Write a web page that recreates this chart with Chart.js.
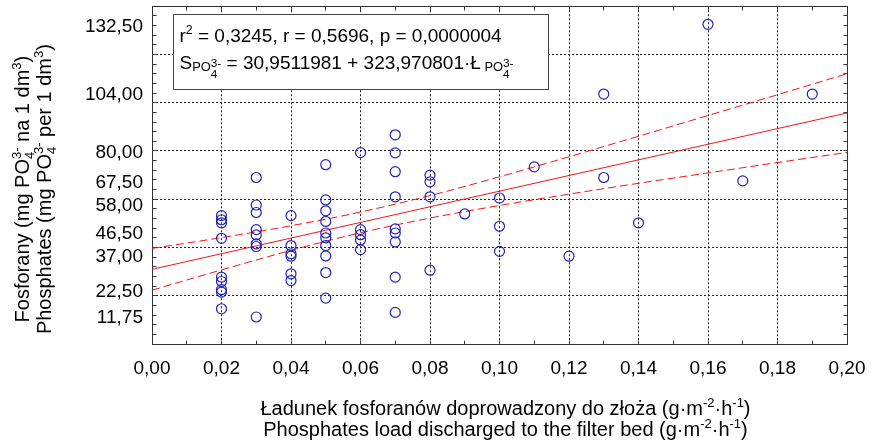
<!DOCTYPE html>
<html><head><meta charset="utf-8">
<script src="https://cdn.jsdelivr.net/npm/chart.js@4.4.1/dist/chart.umd.min.js"></script>
<style>html,body{margin:0;padding:0;background:#fff;}#wrap{width:874px;height:445px;}</style>
</head><body><div id="wrap"><canvas id="c" width="874" height="445"></canvas></div>
<script>
// ---- data ----
const loadX = [
  0.02,0.02,0.02,0.02,0.02,0.02,0.02,0.02,0.02,
  0.03,0.03,0.03,0.03,0.03,0.03,0.03,0.03,
  0.04,0.04,0.04,0.04,0.04,0.04,
  0.05,0.05,0.05,0.05,0.05,0.05,0.05,0.05,0.05,0.05,
  0.06,0.06,0.06,0.06,0.06,
  0.07,0.07,0.07,0.07,0.07,0.07,0.07,0.07,0.07,
  0.08,0.08,0.08,0.08,
  0.09,
  0.10,0.10,0.10,
  0.11,
  0.12,
  0.13,0.13,
  0.14,
  0.16,
  0.17,
  0.19
];
const phosphY = [
  53.2,51.5,50.2,43.8,27.7,25.9,22.5,21.5,14.6,
  69.0,57.6,54.5,47.4,45.2,41.5,40.4,11.2,
  53.2,40.8,37.4,36.4,29.1,26.3,
  74.3,59.7,55.2,50.8,46.0,44.0,40.8,36.5,29.6,19.0,
  79.3,47.4,45.3,43.1,39.1,
  86.7,79.2,71.4,61.0,47.7,46.0,42.3,27.7,13.1,
  70.0,67.2,61.0,30.6,
  53.9,
  60.5,48.8,38.4,
  73.4,
  36.4,
  103.6,69.0,
  50.2,
  132.5,
  67.6,
  103.6
];
const regX = [0, 0.2];
const regY = [30.95, 95.75];
const bandX  = [0, 0.02, 0.04, 0.06, 0.08, 0.10, 0.12, 0.14, 0.16, 0.18, 0.20];
const upperY = [39.6, 44.1, 49.0, 54.7, 61.5, 69.3, 77.6, 86.1, 94.7, 103.3, 112.0];
const lowerY = [22.3, 30.7, 38.8, 46.1, 52.2, 57.4, 62.1, 66.6, 70.9, 75.2, 79.4];
const yTickValues = [11.75, 22.5, 37, 46.5, 58, 67.5, 80, 104, 132.5];
const yMin = 0, yMax = 140, yGridStep = 20, yMinorStep = 4;
const xMin = 0, xMax = 0.2, xStep = 0.02, xMinorStep = 0.01;
const statsLine = 'r² = 0,3245, r = 0,5696, p = 0,0000004';
const eqIntercept = '30,9511981', eqSlope = '323,970801';

const FONT = '"Liberation Sans", Arial, sans-serif';
const fmt = v => v.toFixed(2).replace('.', ',');
const toPts = (xs, ys) => xs.map((x, i) => ({x, y: ys[i]}));

function drawRich(ctx, x, y, parts, size, align) {
  const font = s => (size * s).toFixed(1) + 'px ' + FONT;
  let total = 0, pendingW = 0;
  const widths = parts.map(p => { ctx.font = font(p.s || 1); return ctx.measureText(p.t).width; });
  parts.forEach((p, i) => {
    if (p.keep) { pendingW = Math.max(pendingW, widths[i]); }
    else { total += Math.max(widths[i], pendingW); pendingW = 0; }
  });
  let cx = align === 'center' ? x - total / 2 : x;
  ctx.textAlign = 'left'; ctx.textBaseline = 'alphabetic';
  pendingW = 0;
  parts.forEach((p, i) => {
    ctx.font = font(p.s || 1);
    ctx.fillText(p.t, cx, y + (p.dy || 0) * size);
    if (p.keep) { pendingW = Math.max(pendingW, widths[i]); }
    else { cx += Math.max(widths[i], pendingW); pendingW = 0; }
  });
}

const decor = {
  id: 'decor',
  beforeDatasetsDraw(chart) {
    const {ctx, chartArea: a} = chart;
    const L = Math.round(a.left - 0.5) + 0.5, R = Math.round(a.right - 0.5) + 0.5;
    const T = Math.round(a.top - 0.5) + 0.5, B = Math.round(a.bottom - 0.5) + 0.5;
    const xs = chart.scales.x, ys = chart.scales.y;
    ctx.save();
    ctx.strokeStyle = '#3a3a3a'; ctx.lineWidth = 1; ctx.setLineDash([]);
    ctx.beginPath();
    const ny = Math.round((yMax - yMin) / yMinorStep);
    for (let i = 0; i <= ny; i++) {
      const p = Math.round(ys.getPixelForValue(yMin + i * yMinorStep) - 0.5) + 0.5;
      ctx.moveTo(L, p); ctx.lineTo(L + 4, p);
      ctx.moveTo(R, p); ctx.lineTo(R - 4, p);
    }
    const nx = Math.round((xMax - xMin) / xMinorStep);
    for (let i = 0; i <= nx; i++) {
      const p = Math.round(xs.getPixelForValue(xMin + i * xMinorStep) - 0.5) + 0.5;
      ctx.moveTo(p, B); ctx.lineTo(p, B - 4);
      ctx.moveTo(p, T); ctx.lineTo(p, T + 4);
    }
    ctx.stroke();
    ctx.strokeStyle = '#333';
    ctx.strokeRect(L, T, R - L, B - T);
    // stats box
    const bx = L + 21, by = T + 8, bw = 375, bh = 75;
    ctx.fillStyle = '#fff'; ctx.fillRect(bx, by, bw, bh);
    ctx.strokeStyle = '#444'; ctx.strokeRect(bx, by, bw, bh);
    ctx.fillStyle = '#000';
    drawRich(ctx, bx + 6, by + 27, [
      {t: 'r'}, {t: '2', s: 0.65, dy: -0.4}, {t: statsLine.slice(2)}
    ], 19, 'left');
    drawRich(ctx, bx + 6, by + 54, [
      {t: 'S'}, {t: 'PO', s: 0.68, dy: 0.12}, {t: '3-', s: 0.62, dy: -0.1, keep: true}, {t: '4', s: 0.62, dy: 0.5},
      {t: ' = ' + eqIntercept + ' + ' + eqSlope + '·Ł'}, {t: ' PO', s: 0.68, dy: 0.12},
      {t: '3-', s: 0.62, dy: -0.1, keep: true}, {t: '4', s: 0.62, dy: 0.5}
    ], 19, 'left');
    ctx.restore();
  },
  afterDraw(chart) {
    const {ctx, chartArea: a} = chart;
    ctx.save();
    ctx.fillStyle = '#000';
    const cxm = (a.left + a.right) / 2 + 6;
    drawRich(ctx, cxm, 415, [
      {t: 'Ładunek fosforanów doprowadzony do złoża (g·m'}, {t: '-2', s: 0.65, dy: -0.4},
      {t: '·h'}, {t: '-1', s: 0.65, dy: -0.4}, {t: ')'}
    ], 20, 'center');
    drawRich(ctx, cxm, 436, [
      {t: 'Phosphates load discharged to the filter bed (g·m'}, {t: '-2', s: 0.65, dy: -0.4},
      {t: '·h'}, {t: '-1', s: 0.65, dy: -0.4}, {t: ')'}
    ], 20, 'center');
    const cy = (a.top + a.bottom) / 2 + 14;
    ctx.translate(0, cy); ctx.rotate(-Math.PI / 2);
    drawRich(ctx, 0, 29, [
      {t: 'Fosforany (mg PO'}, {t: '3-', s: 0.65, dy: -0.42, keep: true}, {t: '4', s: 0.65, dy: 0.25},
      {t: ' na 1 dm'}, {t: '3', s: 0.65, dy: -0.42}, {t: ')'}
    ], 20, 'center');
    drawRich(ctx, 0, 51, [
      {t: 'Phosphates (mg PO'}, {t: '3-', s: 0.65, dy: -0.42, keep: true}, {t: '4', s: 0.65, dy: 0.25},
      {t: ' per 1 dm'}, {t: '3', s: 0.65, dy: -0.42}, {t: ')'}
    ], 20, 'center');
    ctx.restore();
  }
};

const RED = '#f01818', BLUE = '#2323b8';
new Chart(document.getElementById('c'), {
  type: 'scatter',
  data: {
    datasets: [
      {data: toPts(loadX, phosphY), pointStyle: 'circle', pointRadius: 5, pointBorderWidth: 1.2,
       borderColor: BLUE, backgroundColor: 'rgba(0,0,0,0)', showLine: false, order: 0},
      {data: toPts(regX, regY), showLine: true, borderColor: RED, borderWidth: 1, pointRadius: 0, order: 1},
      {data: toPts(bandX, upperY), showLine: true, borderColor: RED, borderWidth: 1, borderDash: [8, 4],
       pointRadius: 0, tension: 0.35, order: 2},
      {data: toPts(bandX, lowerY), showLine: true, borderColor: RED, borderWidth: 1, borderDash: [8, 4],
       pointRadius: 0, tension: 0.35, order: 3}
    ]
  },
  options: {
    responsive: false, animation: false, devicePixelRatio: 1,
    layout: {padding: {left: 0, top: 5, right: 27, bottom: 0}},
    plugins: {legend: {display: false}, tooltip: {enabled: false}},
    scales: {
      x: {type: 'linear', min: xMin, max: xMax,
          ticks: {stepSize: xStep, callback: v => fmt(v), color: '#000', font: {family: FONT, size: 19},
                  padding: 13, maxRotation: 0, autoSkip: false},
          grid: {color: '#222', lineWidth: 1, drawTicks: false},
          border: {display: false, dash: [2, 2]},
          afterFit(s) { s.height = 101; s.paddingLeft = 0; s.paddingRight = 0; }},
      y: {type: 'linear', position: 'left', min: yMin, max: yMax,
          afterBuildTicks(s) { s.ticks = yTickValues.map(v => ({value: v})); },
          ticks: {callback: v => fmt(v), color: '#000', font: {family: FONT, size: 19}, padding: 9,
                  autoSkip: false, labelOffset: 2},
          grid: {display: false, drawTicks: false},
          border: {display: false},
          afterFit(s) { s.width = 152; s.paddingTop = 0; s.paddingBottom = 0; }},
      yGrid: {type: 'linear', position: 'left', min: yMin, max: yMax,
          ticks: {display: false, stepSize: yGridStep},
          grid: {color: '#222', lineWidth: 1, drawTicks: false},
          border: {display: false, dash: [2, 2]},
          afterFit(s) { s.width = 0; s.paddingTop = 0; s.paddingBottom = 0; }}
    }
  },
  plugins: [decor]
});
</script></body></html>
